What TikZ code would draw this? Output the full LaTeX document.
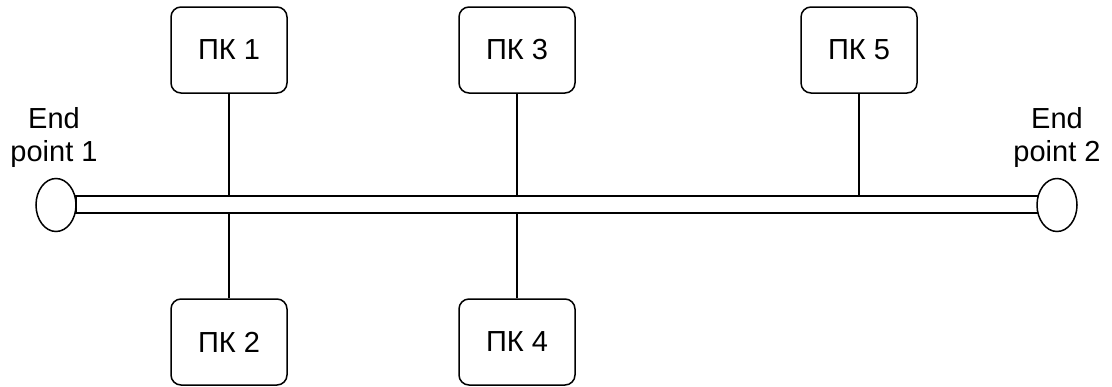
\documentclass[tikz,border=0pt]{standalone}
\usepackage{fontspec}
\setmainfont{Liberation Sans}
\usepackage{tikz}
\usetikzlibrary{shapes.geometric, positioning}

\begin{document}
\begin{tikzpicture}[x=0.5pt, y=-0.5pt,
    pc/.style={draw, rounded corners=5pt, minimum width=58pt, minimum height=43pt,
        line width=0.75pt, font=\fontsize{14.5}{16.5}\selectfont},
    endpt/.style={draw, ellipse, fill=white, minimum width=20pt, minimum height=26.5pt,
        inner sep=0pt, line width=0.75pt},
    lbl/.style={align=center, font=\fontsize{14.5}{16.5}\selectfont},
    tap/.style={line width=0.7pt}]
    \useasboundingbox (0,0) rectangle (1112,386);
    \node[draw, line width=0.75pt, minimum width=481pt, minimum height=8.5pt, inner sep=0pt] (bus) at (557,204.5) {};
    \node[endpt] (e1) at (56,205) {};
    \node[endpt] (e2) at (1057,205) {};
    \node[lbl] (l1) at (54,137) {End\\point 1};
    \node[lbl] (l2) at (1057,137) {End\\point 2};
    \node[pc] (pk1) at (229,50) {ПК 1};
    \node[pc] (pk3) at (517,50) {ПК 3};
    \node[pc] (pk5) at (859,50) {ПК 5};
    \node[pc] (pk2) at (229,342) {ПК 2};
    \node[pc] (pk4) at (517,342) {ПК 4};
    \draw[tap] (pk1.south) -- (pk1.south |- bus.north);
    \draw[tap] (pk3.south) -- (pk3.south |- bus.north);
    \draw[tap] (pk5.south) -- (pk5.south |- bus.north);
    \draw[tap] (pk2.north) -- (pk2.north |- bus.south);
    \draw[tap] (pk4.north) -- (pk4.north |- bus.south);
\end{tikzpicture}
\end{document}
